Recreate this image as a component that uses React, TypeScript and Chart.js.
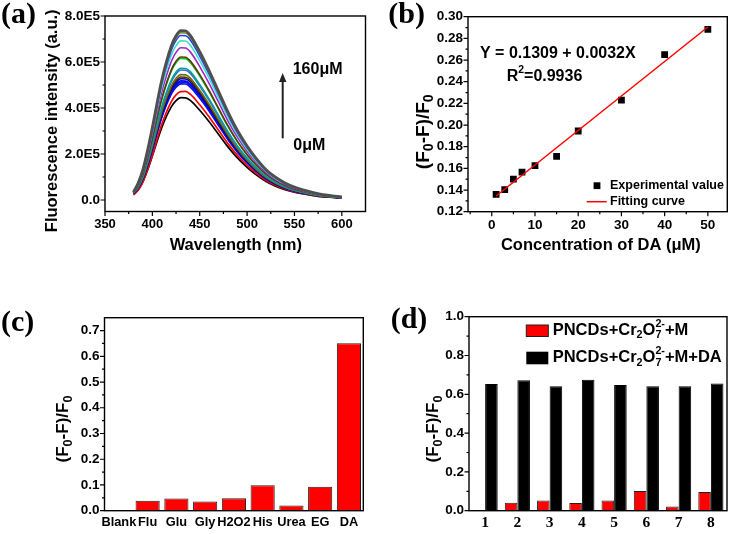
import React, { useEffect, useRef } from "react";
import { Chart, registerables } from "chart.js";
Chart.register(...registerables);

const SANS = '"Liberation Sans", Arial, sans-serif';
const SERIF = '"Liberation Serif", "Times New Roman", serif';

// ---------- Panel (a): emission spectra (intensity in units of 1E5) ----------
const wavelengthNm = [380, 385, 390, 395, 400, 410, 420, 425, 430, 435, 440, 450, 460, 470, 480, 490, 500, 510, 520, 530, 540, 550, 560, 570, 580, 590, 600];
const spec160uM = [0.34, 0.74, 1.32, 2.17, 3.16, 5.23, 6.70, 7.14, 7.36, 7.35, 7.16, 6.45, 5.62, 4.71, 3.81, 3.01, 2.35, 1.79, 1.32, 0.99, 0.74, 0.56, 0.43, 0.32, 0.23, 0.18, 0.13];
const specC15 = [0.34, 0.73, 1.31, 2.14, 3.13, 5.16, 6.62, 7.05, 7.27, 7.26, 7.07, 6.37, 5.55, 4.65, 3.76, 2.97, 2.32, 1.77, 1.31, 0.98, 0.73, 0.55, 0.42, 0.31, 0.23, 0.18, 0.13];
const specC14 = [0.33, 0.72, 1.29, 2.11, 3.07, 5.08, 6.51, 6.94, 7.15, 7.14, 6.96, 6.26, 5.46, 4.58, 3.70, 2.92, 2.28, 1.74, 1.29, 0.97, 0.72, 0.54, 0.41, 0.31, 0.22, 0.18, 0.13];
const specC13 = [0.33, 0.69, 1.25, 2.04, 2.98, 4.91, 6.30, 6.71, 6.92, 6.91, 6.73, 6.06, 5.29, 4.43, 3.58, 2.83, 2.21, 1.68, 1.25, 0.93, 0.70, 0.53, 0.40, 0.30, 0.21, 0.17, 0.12];
const specC12 = [0.32, 0.66, 1.19, 1.95, 2.85, 4.70, 6.02, 6.42, 6.62, 6.61, 6.44, 5.80, 5.06, 4.24, 3.42, 2.71, 2.11, 1.61, 1.19, 0.89, 0.67, 0.50, 0.38, 0.28, 0.21, 0.17, 0.12];
const specC11 = [0.31, 0.62, 1.12, 1.83, 2.67, 4.42, 5.66, 6.03, 6.22, 6.21, 6.05, 5.45, 4.75, 3.98, 3.22, 2.54, 1.98, 1.51, 1.12, 0.84, 0.63, 0.47, 0.36, 0.27, 0.19, 0.16, 0.11];
const specC10 = [0.31, 0.62, 1.11, 1.81, 2.64, 4.37, 5.60, 5.97, 6.15, 6.14, 5.98, 5.39, 4.70, 3.94, 3.18, 2.52, 1.96, 1.49, 1.11, 0.83, 0.62, 0.47, 0.36, 0.26, 0.19, 0.15, 0.11];
const specC9 = [0.30, 0.57, 1.03, 1.69, 2.46, 4.07, 5.21, 5.56, 5.73, 5.72, 5.58, 5.02, 4.38, 3.67, 2.96, 2.34, 1.83, 1.39, 1.03, 0.77, 0.58, 0.44, 0.33, 0.25, 0.18, 0.14, 0.10];
const specC8 = [0.30, 0.57, 1.02, 1.67, 2.43, 4.01, 5.14, 5.48, 5.65, 5.64, 5.50, 4.95, 4.32, 3.62, 2.92, 2.31, 1.80, 1.37, 1.02, 0.76, 0.57, 0.43, 0.33, 0.24, 0.18, 0.14, 0.10];
const specC7 = [0.29, 0.55, 0.98, 1.61, 2.34, 3.87, 4.96, 5.29, 5.45, 5.44, 5.30, 4.77, 4.16, 3.49, 2.82, 2.23, 1.74, 1.32, 0.98, 0.74, 0.55, 0.41, 0.32, 0.23, 0.17, 0.14, 0.10];
const specC6 = [0.29, 0.54, 0.96, 1.58, 2.30, 3.80, 4.87, 5.19, 5.35, 5.34, 5.21, 4.69, 4.09, 3.42, 2.77, 2.19, 1.71, 1.30, 0.96, 0.72, 0.54, 0.41, 0.31, 0.23, 0.17, 0.13, 0.10];
const specC5 = [0.28, 0.53, 0.95, 1.55, 2.27, 3.74, 4.80, 5.11, 5.27, 5.26, 5.13, 4.62, 4.03, 3.37, 2.72, 2.16, 1.68, 1.28, 0.95, 0.71, 0.53, 0.40, 0.31, 0.23, 0.16, 0.13, 0.09];
const specC4 = [0.28, 0.52, 0.93, 1.53, 2.23, 3.68, 4.71, 5.02, 5.18, 5.17, 5.04, 4.54, 3.96, 3.32, 2.68, 2.12, 1.65, 1.26, 0.93, 0.70, 0.52, 0.39, 0.30, 0.22, 0.16, 0.13, 0.09];
const specC3 = [0.27, 0.51, 0.92, 1.51, 2.20, 3.64, 4.66, 4.97, 5.12, 5.11, 4.98, 4.49, 3.91, 3.28, 2.65, 2.09, 1.63, 1.24, 0.92, 0.69, 0.52, 0.39, 0.30, 0.22, 0.16, 0.13, 0.09];
const specC2 = [0.27, 0.51, 0.91, 1.49, 2.17, 3.59, 4.60, 4.90, 5.05, 5.04, 4.91, 4.42, 3.86, 3.23, 2.61, 2.07, 1.61, 1.23, 0.91, 0.68, 0.51, 0.38, 0.29, 0.22, 0.16, 0.13, 0.09];
const specC1 = [0.22, 0.42, 0.78, 1.33, 1.95, 3.30, 4.28, 4.57, 4.71, 4.72, 4.60, 4.14, 3.61, 3.02, 2.44, 1.93, 1.51, 1.15, 0.85, 0.64, 0.48, 0.36, 0.27, 0.20, 0.15, 0.12, 0.09];
const spec0uM = [0.25, 0.45, 0.80, 1.31, 1.91, 3.16, 4.05, 4.32, 4.45, 4.44, 4.33, 3.90, 3.40, 2.85, 2.30, 1.82, 1.42, 1.08, 0.80, 0.60, 0.45, 0.34, 0.26, 0.19, 0.14, 0.11, 0.08];
const spectra = [spec160uM, specC15, specC14, specC13, specC12, specC11, specC10, specC9, specC8, specC7, specC6, specC5, specC4, specC3, specC2, specC1, spec0uM];
const spectraColors = ["#4f4f4f", "#6f8c1c", "#1f3cff", "#3fe0c8", "#a424c8", "#5a3a10", "#10c020", "#0a9c9c", "#2f6fe6", "#6e6e00", "#4a2800", "#000096", "#0000ff", "#1414f0", "#0a0ad8", "#ff0000", "#000000"];
const spectraWidths = [2.8, 1.6, 1.6, 1.6, 1.6, 1.6, 1.6, 1.6, 1.6, 1.6, 1.6, 1.6, 1.6, 1.6, 1.6, 1.7, 1.7];
const aYMajor = [0, 2, 4, 6, 8];
const aYMinor = [1, 3, 5, 7];
const aXMajor = [350, 400, 450, 500, 550, 600];
const aXMinor = [375, 425, 475, 525, 575];

// ---------- Panel (b): calibration ----------
const daConc = [1, 3, 5, 7, 10, 15, 20, 30, 40, 50];
const daResponse = [0.136, 0.1403, 0.150, 0.1566, 0.1625, 0.171, 0.1945, 0.223, 0.265, 0.2883];
const fitConc = [1, 50];
const fitResponse = [0.1345, 0.2905];
const bYMajor = [0.12, 0.14, 0.16, 0.18, 0.20, 0.22, 0.24, 0.26, 0.28, 0.30];
const bYMinor = [0.13, 0.15, 0.17, 0.19, 0.21, 0.23, 0.25, 0.27, 0.29];
const bXMajor = [0, 10, 20, 30, 40, 50];
const bXMinor = [-5, 5, 15, 25, 35, 45];

// ---------- Panel (c): selectivity ----------
const interferents = ["Blank", "Flu", "Glu", "Gly", "H2O2", "His", "Urea", "EG", "DA"];
const interfResponse = [0, 0.039, 0.047, 0.036, 0.048, 0.099, 0.02, 0.093, 0.651];
const cYMajor = [0, 0.1, 0.2, 0.3, 0.4, 0.5, 0.6, 0.7];
const cYMinor = [0.05, 0.15, 0.25, 0.35, 0.45, 0.55, 0.65];

// ---------- Panel (d): competition ----------
const mixIds = ["1", "2", "3", "4", "5", "6", "7", "8"];
const mixNoDA = [0, 0.041, 0.052, 0.04, 0.052, 0.102, 0.022, 0.097];
const mixWithDA = [0.653, 0.672, 0.642, 0.675, 0.648, 0.642, 0.642, 0.656];
const dYMajor = [0, 0.2, 0.4, 0.6, 0.8, 1.0];
const dYMinor = [0.1, 0.3, 0.5, 0.7, 0.9];

// ---------- helpers ----------
const fnt = (size: number, family = SANS) => `bold ${size}px ${family}`;

type Rich = { t?: string; sub?: string; sup?: string };

function drawRich(ctx: CanvasRenderingContext2D, parts: Rich[], x: number, y: number, size: number,
  align: "left" | "center", rotate = false, family = SANS, ratio = 0.65) {
  const small = size * ratio;
  const widths = parts.map((p) => {
    ctx.font = fnt(size, family);
    const w0 = p.t ? ctx.measureText(p.t).width : 0;
    ctx.font = fnt(small, family);
    const ws = Math.max(p.sub ? ctx.measureText(p.sub).width : 0, p.sup ? ctx.measureText(p.sup).width : 0);
    return [w0, ws];
  });
  const total = widths.reduce((s, w) => s + w[0] + w[1], 0);
  ctx.save();
  ctx.translate(x, y);
  if (rotate) ctx.rotate(-Math.PI / 2);
  ctx.textBaseline = "middle";
  ctx.textAlign = "left";
  ctx.fillStyle = "#000";
  let cx = align === "center" ? -total / 2 : 0;
  parts.forEach((p, i) => {
    const [w0, ws] = widths[i];
    if (p.t) { ctx.font = fnt(size, family); ctx.fillText(p.t, cx, 0); }
    cx += w0;
    ctx.font = fnt(small, family);
    if (p.sub) ctx.fillText(p.sub, cx, size * 0.3);
    if (p.sup) ctx.fillText(p.sup, cx, -size * 0.38);
    cx += ws;
  });
  ctx.restore();
}

function drawFrame(chart: any, yMajor: number[], yMinor: number[], xMajor: number[], xMinor: number[]) {
  const { ctx, chartArea: a, scales } = chart;
  ctx.save();
  ctx.strokeStyle = "#000";
  ctx.lineWidth = 1.4;
  ctx.strokeRect(a.left, a.top, a.right - a.left, a.bottom - a.top);
  ctx.lineWidth = 1.2;
  ctx.beginPath();
  yMajor.forEach((v) => { const y = scales.y.getPixelForValue(v); ctx.moveTo(a.left - 4.5, y); ctx.lineTo(a.left, y); });
  yMinor.forEach((v) => { const y = scales.y.getPixelForValue(v); ctx.moveTo(a.left - 2.5, y); ctx.lineTo(a.left, y); });
  xMajor.forEach((v) => { const x = scales.x.getPixelForValue(v); ctx.moveTo(x, a.bottom); ctx.lineTo(x, a.bottom + 4.5); });
  xMinor.forEach((v) => { const x = scales.x.getPixelForValue(v); ctx.moveTo(x, a.bottom); ctx.lineTo(x, a.bottom + 2.5); });
  ctx.stroke();
  ctx.restore();
}

function panelLabel(ctx: CanvasRenderingContext2D, text: string, x: number, y: number) {
  ctx.save();
  ctx.font = fnt(30, SERIF);
  ctx.fillStyle = "#000";
  ctx.textBaseline = "middle";
  ctx.textAlign = "left";
  ctx.fillText(text, x, y);
  ctx.restore();
}

function plainText(ctx: CanvasRenderingContext2D, text: string, x: number, y: number, size: number, align: CanvasTextAlign = "left") {
  ctx.save();
  ctx.font = fnt(size);
  ctx.fillStyle = "#000";
  ctx.textBaseline = "middle";
  ctx.textAlign = align;
  ctx.fillText(text, x, y);
  ctx.restore();
}

const F0F: Rich[] = [{ t: "(F", sub: "0" }, { t: "-F)/F", sub: "0" }];

function linearAxis(min: number, max: number, major: number[], fixed: { w?: number; h?: number }, fmt: (v: number) => string, pad: number, size = 13) {
  return {
    type: "linear",
    min, max,
    grid: { display: false, drawTicks: false, tickLength: 0 },
    border: { display: false },
    afterBuildTicks: (s: any) => { s.ticks = major.map((v) => ({ value: v })); },
    afterFit: (s: any) => { if (fixed.w !== undefined) s.width = fixed.w; if (fixed.h !== undefined) s.height = fixed.h; },
    ticks: { padding: pad, color: "#000", font: { family: SANS, weight: "bold", size }, callback: (v: any) => fmt(Number(v)), maxRotation: 0, autoSkip: false },
  };
}

const common = { animation: false, responsive: false, plugins: { legend: { display: false }, tooltip: { enabled: false } }, events: [] as any[] };

function makeA(): any {
  return {
    type: "line",
    data: {
      datasets: spectra.map((s, i) => ({
        data: wavelengthNm.map((w, j) => ({ x: w, y: s[j] })),
        borderColor: spectraColors[i], borderWidth: spectraWidths[i], pointRadius: 0,
        cubicInterpolationMode: "monotone", fill: false,
      })),
    },
    options: {
      ...common,
      layout: { padding: { left: 0, top: 16, right: 1.5, bottom: 0 } },
      scales: {
        x: linearAxis(350, 625, aXMajor, { h: 55.5 }, (v) => String(v), 5, 13),
        y: linearAxis(-0.5, 8, aYMajor, { w: 105 }, (v) => (v === 0 ? "0.0" : v.toFixed(1) + "E5"), 5, 13.5),
      },
    },
    plugins: [{
      id: "decorA",
      afterDraw: (chart: any) => {
        const ctx = chart.ctx;
        drawFrame(chart, aYMajor, aYMinor, aXMajor, aXMinor);
        drawRich(ctx, [{ t: "Fluorescence intensity (a.u.)" }], 52.5, 120.8, 16.5, "center", true);
        drawRich(ctx, [{ t: "Wavelength (nm)" }], 235.8, 245, 16.5, "center");
        plainText(ctx, "160μM", 292.7, 70, 16);
        plainText(ctx, "0μM", 293.3, 145.7, 16);
        ctx.save();
        ctx.strokeStyle = "#222"; ctx.fillStyle = "#222"; ctx.lineWidth = 2;
        ctx.beginPath(); ctx.moveTo(282.7, 138.3); ctx.lineTo(282.7, 80); ctx.stroke();
        ctx.beginPath(); ctx.moveTo(282.7, 73); ctx.lineTo(279, 82); ctx.lineTo(286.4, 82); ctx.closePath(); ctx.fill();
        ctx.restore();
        panelLabel(ctx, "(a)", 1, 15);
      },
    }],
  };
}

function makeB(): any {
  return {
    type: "scatter",
    data: {
      datasets: [
        { type: "line", data: fitConc.map((x, i) => ({ x, y: fitResponse[i] })), borderColor: "#ff0000", borderWidth: 1.5, pointRadius: 0, order: 0, fill: false },
        { type: "scatter", data: daConc.map((x, i) => ({ x, y: daResponse[i] })), backgroundColor: "#000", borderColor: "#000", borderWidth: 0, pointStyle: "rect", pointRadius: 4.8, order: 1 },
      ],
    },
    options: {
      ...common,
      layout: { padding: { left: 0, top: 16.7, right: 5.7, bottom: 0 } },
      scales: {
        x: linearAxis(-5.5, 54.5, bXMajor, { h: 55.3 }, (v) => String(v), 5, 13.5),
        y: linearAxis(0.12, 0.30, bYMajor, { w: 101 }, (v) => v.toFixed(2), 5, 13.5),
      },
    },
    plugins: [{
      id: "decorB",
      afterDraw: (chart: any) => {
        const ctx = chart.ctx;
        drawFrame(chart, bYMajor, bYMinor, bXMajor, bXMinor);
        drawRich(ctx, F0F, 56.3, 131.7, 19, "center", true, SANS, 0.75);
        drawRich(ctx, [{ t: "Concentration of DA (μM)" }], 233.8, 245, 16.5, "center");
        plainText(ctx, "Y = 0.1309 + 0.0032X", 113, 53.3, 16);
        drawRich(ctx, [{ t: "R", sup: "2" }, { t: "=0.9936" }], 139.7, 76.7, 16, "left");
        ctx.save();
        ctx.fillStyle = "#000";
        ctx.fillRect(230 - 3.4, 185.7 - 3.4, 6.8, 6.8);
        ctx.strokeStyle = "#ff0000"; ctx.lineWidth = 1.5;
        ctx.beginPath(); ctx.moveTo(219.7, 201.7); ctx.lineTo(239.7, 201.7); ctx.stroke();
        ctx.restore();
        plainText(ctx, "Experimental value", 243, 185.7, 12.5);
        plainText(ctx, "Fitting curve", 243, 201.7, 12.5);
        panelLabel(ctx, "(b)", 21.3, 15);
      },
    }],
  };
}

function categoryAxis(h: number, family: string, size: number, pad: number) {
  return {
    type: "category",
    grid: { display: false, drawTicks: false, tickLength: 0 },
    border: { display: false },
    afterFit: (s: any) => { s.height = h; },
    ticks: { padding: pad, color: "#000", font: { family, weight: "bold", size }, maxRotation: 0, autoSkip: false },
  };
}

function makeC(): any {
  return {
    type: "bar",
    data: {
      labels: interferents,
      datasets: [{ data: interfResponse, backgroundColor: "#ff0000", borderColor: "#202020", borderWidth: 1, barPercentage: 0.84, categoryPercentage: 1.0 }],
    },
    options: {
      ...common,
      layout: { padding: { left: 0, top: 50.7, right: 3.7, bottom: 0 } },
      scales: {
        x: categoryAxis(23.3, SANS, 12.8, 4),
        y: linearAxis(0, 0.75, cYMajor, { w: 104.5 }, (v) => v.toFixed(1), 5, 13.5),
      },
    },
    plugins: [{
      id: "decorC",
      afterDraw: (chart: any) => {
        const ctx = chart.ctx;
        drawFrame(chart, cYMajor, cYMinor, [], []);
        drawRich(ctx, F0F, 63.5, 162, 17, "center", true, SANS, 0.75);
        panelLabel(ctx, "(c)", 1, 56);
      },
    }],
  };
}

function makeD(): any {
  return {
    type: "bar",
    data: {
      labels: mixIds,
      datasets: [
        { data: mixNoDA, backgroundColor: "#ff0000", borderColor: "#202020", borderWidth: 1, barPercentage: 1.0, categoryPercentage: 0.78 },
        { data: mixWithDA, backgroundColor: "#000000", borderColor: "#000000", borderWidth: 1, barPercentage: 1.0, categoryPercentage: 0.78 },
      ],
    },
    options: {
      ...common,
      layout: { padding: { left: 0, top: 49.7, right: 6, bottom: 0 } },
      scales: {
        x: categoryAxis(23.3, SERIF, 15.5, 3),
        y: linearAxis(0, 1.0, dYMajor, { w: 102 }, (v) => v.toFixed(1), 5, 13.5),
      },
    },
    plugins: [{
      id: "decorD",
      afterDraw: (chart: any) => {
        const ctx = chart.ctx;
        drawFrame(chart, dYMajor, dYMinor, [], []);
        drawRich(ctx, F0F, 66.5, 162, 17, "center", true, SANS, 0.75);
        ctx.save();
        ctx.fillStyle = "#ff0000"; ctx.fillRect(159.3, 58, 22, 11.5);
        ctx.strokeStyle = "#202020"; ctx.lineWidth = 1; ctx.strokeRect(159.3, 58, 22, 11.5);
        ctx.fillStyle = "#000"; ctx.fillRect(159.3, 84.7, 22, 12.6);
        ctx.restore();
        drawRich(ctx, [{ t: "PNCDs+Cr", sub: "2" }, { t: "O", sub: "7", sup: "2-" }, { t: "+M" }], 185.7, 63, 16.5, "left");
        drawRich(ctx, [{ t: "PNCDs+Cr", sub: "2" }, { t: "O", sub: "7", sup: "2-" }, { t: "+M+DA" }], 185.7, 90.7, 16.5, "left");
        panelLabel(ctx, "(d)", 23.7, 53);
      },
    }],
  };
}

function Panel({ make, left, top, w, h }: { make: () => any; left: number; top: number; w: number; h: number }) {
  const ref = useRef<HTMLCanvasElement>(null);
  useEffect(() => {
    const chart = new Chart(ref.current as HTMLCanvasElement, make());
    return () => chart.destroy();
  }, []);
  return <canvas ref={ref} width={w} height={h} style={{ position: "absolute", left, top, width: w, height: h }} />;
}

export default function App() {
  return (
    <div style={{ position: "absolute", left: 0, top: 0, width: 733, height: 534, background: "#fff", overflow: "hidden" }}>
      <Panel make={makeA} left={0} top={0} w={367} h={267} />
      <Panel make={makeB} left={367} top={0} w={366} h={267} />
      <Panel make={makeC} left={0} top={267} w={367} h={267} />
      <Panel make={makeD} left={367} top={267} w={366} h={267} />
    </div>
  );
}
